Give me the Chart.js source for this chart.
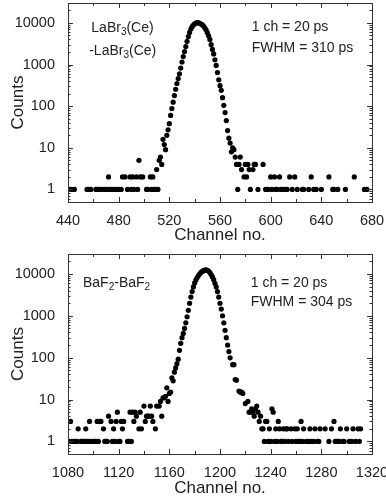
<!DOCTYPE html>
<html>
<head>
<meta charset="utf-8">
<script src="https://cdn.jsdelivr.net/npm/chart.js@4.4.1/dist/chart.umd.min.js"></script>
<style>
  body { margin: 0; background: #fff; }
  canvas { display: block; }
</style>
</head>
<body>
<canvas id="laChart" width="386" height="250"></canvas>
<canvas id="baChart" width="386" height="249"></canvas>
<script>
// LaBr3(Ce)-LaBr3(Ce) time spectrum
const laChannels = [441, 443, 445, 455, 456, 458, 462, 463, 465, 467, 469, 471, 472, 473, 474, 476, 478, 480,
  482, 483, 485, 487, 489, 490, 491, 492, 494, 495, 496, 497, 499, 502, 503, 505, 506, 507, 508, 509, 510, 511,
  512, 513, 514, 515, 516, 517, 518, 519, 520, 521, 522, 523, 524, 525, 526, 527, 528, 529, 530, 531, 532, 533,
  534, 535, 536, 537, 538, 539, 540, 541, 542, 543, 544, 545, 546, 547, 548, 549, 550, 551, 552, 553, 554, 555,
  556, 557, 558, 559, 560, 561, 562, 563, 564, 565, 566, 567, 568, 569, 570, 571, 572, 573, 574, 575, 576, 577,
  579, 580, 581, 582, 583, 584, 586, 587, 588, 590, 594, 596, 598, 600, 601, 603, 604, 605, 607, 608, 609, 611,
  613, 615, 617, 619, 621, 625, 626, 630, 632, 634, 636, 640, 646, 649, 650, 653, 659, 666, 674, 676];
const laCounts = [1, 1, 1, 1, 1, 1, 1, 1, 1, 1, 1, 1, 2, 1, 1, 1, 1, 1,
  1, 2, 2, 1, 2, 1, 2, 1, 2, 1, 5, 2, 2, 1, 1, 2, 1, 2, 1, 1, 3, 1,
  5, 6, 4, 16, 12, 9, 20, 27, 38, 60, 88, 125, 180, 255, 350, 460, 600, 820, 1150, 1550, 2050, 2700,
  3600, 4700, 5900, 7100, 8100, 8900, 9500, 9900, 10100, 10000, 9800, 9400, 9000, 8400, 7600, 6800, 5800, 4900, 4000, 3000, 2300, 1800,
  1300, 950, 640, 430, 310, 240, 160, 105, 70, 45, 26, 17, 13, 8, 10, 9, 6, 4, 1, 4, 6, 3,
  2, 4, 2, 4, 3, 1, 3, 4, 4, 1, 4, 1, 1, 2, 1, 2, 1, 1, 2, 1, 1, 1,
  1, 2, 1, 2, 1, 1, 1, 1, 2, 1, 1, 1, 2, 1, 1, 1, 1, 2, 1, 1];

// BaF2-BaF2 time spectrum
const baChannels = [1081, 1082, 1083, 1085, 1086, 1087, 1088, 1090, 1091, 1092, 1093, 1094, 1095, 1096, 1097, 1098,
  1100, 1101, 1102, 1103, 1104, 1105, 1106, 1108, 1109, 1110, 1111, 1112, 1114, 1115, 1116, 1117, 1118, 1119, 1120,
  1121, 1122, 1123, 1124, 1127, 1128, 1129, 1130, 1131, 1132, 1133, 1134, 1136, 1137, 1138, 1140, 1141, 1142, 1143,
  1144, 1145, 1146, 1147, 1149, 1150, 1152, 1153, 1154, 1155, 1156, 1157, 1158, 1159, 1160, 1161, 1162, 1163, 1164,
  1165, 1166, 1167, 1168, 1169, 1170, 1171, 1172, 1173, 1174, 1175, 1176, 1177, 1178, 1179, 1180, 1181, 1182, 1183,
  1184, 1185, 1186, 1187, 1188, 1189, 1190, 1191, 1192, 1193, 1194, 1195, 1196, 1197, 1198, 1199, 1200, 1201, 1202,
  1203, 1204, 1205, 1206, 1207, 1208, 1210, 1211, 1212, 1213, 1215, 1216, 1217, 1218, 1220, 1222, 1223, 1224, 1225,
  1226, 1227, 1228, 1229, 1230, 1231, 1232, 1233, 1234, 1235, 1236, 1237, 1238, 1239, 1240, 1241, 1242, 1243, 1244,
  1245, 1246, 1247, 1248, 1249, 1250, 1251, 1252, 1253, 1254, 1256, 1257, 1259, 1260, 1261, 1262, 1263, 1264, 1265,
  1266, 1268, 1270, 1271, 1272, 1274, 1275, 1277, 1278, 1279, 1283, 1286, 1288, 1290, 1291, 1292, 1293, 1294, 1295,
  1297, 1298, 1300, 1302, 1304, 1305, 1307, 1309, 1310, 1311];
const baCounts = [1, 3, 1, 1, 1, 1, 2, 1, 1, 1, 1, 2, 1, 1, 3, 1,
  1, 1, 1, 3, 1, 3, 3, 2, 1, 1, 1, 4, 3, 1, 2, 1, 3, 5, 1,
  1, 3, 2, 3, 1, 1, 5, 1, 5, 3, 5, 4, 2, 5, 2, 7, 3, 4, 4,
  4, 7, 4, 3, 2, 7, 7, 9, 4, 11, 11, 12, 19, 9, 14, 15, 33, 28, 45,
  57, 72, 92, 150, 220, 300, 380, 500, 680, 950, 1350, 2000, 2800, 3800, 4900, 6100, 7200, 8200, 9200,
  10100, 10900, 11500, 12000, 12400, 12500, 12200, 11700, 10800, 9700, 8500, 7300, 6000, 4900, 3800, 2800, 2000, 1450, 1000,
  680, 450, 300, 200, 140, 99, 68, 68, 30, 29, 16, 15, 15, 14, 8, 9, 5, 5, 6,
  5, 4, 6, 7, 5, 3, 4, 2, 2, 1, 3, 3, 1, 2, 1, 6, 5, 1, 2,
  1, 3, 2, 1, 1, 2, 1, 2, 2, 1, 2, 1, 2, 1, 2, 1, 1, 3, 1,
  2, 1, 1, 2, 1, 1, 2, 1, 1, 2, 2, 1, 2, 3, 1, 1, 1, 1, 2,
  1, 1, 2, 1, 1, 2, 1, 2, 1, 2];

const laXTicks = [440, 480, 520, 560, 600, 640, 680];
const baXTicks = [1080, 1120, 1160, 1200, 1240, 1280, 1320];
const yTicks = [1, 10, 100, 1000, 10000];

const FONT = "'Liberation Sans', Arial, sans-serif";

//Box frame with inward ticks on all four sides
const frameTicks = {
  id: 'frameTicks',
  afterDraw(chart, args, opts) {
    const { ctx, chartArea: a, scales: { x, y } } = chart;
    ctx.save();
    ctx.strokeStyle = '#333';
    ctx.lineWidth = 1;
    ctx.strokeRect(Math.round(a.left) + 0.5, Math.round(a.top) + 0.5,
      Math.round(a.right - a.left), Math.round(a.bottom - a.top));
    ctx.beginPath();
    for (let v = x.min; v <= x.max; v += opts.minor) {
      const px = Math.round(x.getPixelForValue(v)) + 0.5;
      const len = (v - x.min) % opts.major === 0 ? 5 : 3;
      ctx.moveTo(px, a.bottom); ctx.lineTo(px, a.bottom - len);
      ctx.moveTo(px, a.top); ctx.lineTo(px, a.top + len);
    }
    for (let d = -1; d <= 5; d++) {
      for (let m = 1; m <= 9; m++) {
        const v = m * Math.pow(10, d);
        if (v < y.min || v > y.max) continue;
        const py = Math.round(y.getPixelForValue(v)) + 0.5;
        const len = m === 1 ? 5 : 2.5;
        ctx.moveTo(a.left, py); ctx.lineTo(a.left + len, py);
        ctx.moveTo(a.right, py); ctx.lineTo(a.right - len, py);
      }
    }
    ctx.stroke();
    ctx.restore();
  }
};

//Text notes, parts with sub:true are drawn as subscripts
const notes = {
  id: 'notes',
  afterDraw(chart, args, opts) {
    const ctx = chart.ctx;
    ctx.save();
    ctx.fillStyle = '#222';
    ctx.textBaseline = 'middle';
    opts.items.forEach(item => {
      let w = 0;
      item.parts.forEach(p => {
        ctx.font = (p.sub ? 10 : 14) + 'px ' + FONT;
        w += ctx.measureText(p.t).width;
      });
      let x = item.center ? item.x - w / 2 : item.x;
      item.parts.forEach(p => {
        ctx.font = (p.sub ? 10 : 14) + 'px ' + FONT;
        ctx.fillText(p.t, x, item.y + (p.sub ? 4 : 0));
        x += ctx.measureText(p.t).width;
      });
    });
    ctx.restore();
  }
};

function createChart(id, channels, counts, xTicks, noteItems, top, xHeight, titlePad) {
  const points = channels.map((c, i) => ({ x: c, y: counts[i] }));
  return new Chart(document.getElementById(id), {
    type: 'scatter',
    data: {
      datasets: [{
        data: points,
        backgroundColor: '#000',
        borderWidth: 0,
        pointRadius: 2.6,
        pointHoverRadius: 2.6
      }]
    },
    options: {
      responsive: false,
      animation: false,
      events: [],
      layout: { padding: { top: top, right: 14, left: 0, bottom: 0 } },
      plugins: {
        legend: { display: false },
        tooltip: { enabled: false },
        frameTicks: { major: 40, minor: 20 },
        notes: { items: noteItems }
      },
      scales: {
        x: {
          type: 'linear',
          min: xTicks[0],
          max: xTicks[xTicks.length - 1],
          grid: { display: false },
          border: { display: false },
          afterBuildTicks: s => { s.ticks = xTicks.map(v => ({ value: v })); },
          ticks: { padding: 2, color: '#222', autoSkip: false, maxRotation: 0, font: { family: FONT, size: 14.5 }, callback: v => String(v) },
          title: { display: true, text: 'Channel no.', color: '#222', font: { family: FONT, size: 17 }, padding: { top: 0, bottom: titlePad } },
          afterFit: s => { s.height = xHeight; s.paddingLeft = 0; s.paddingRight = 0; }
        },
        y: {
          type: 'logarithmic',
          min: 0.5,
          max: 30000,
          grid: { display: false },
          border: { display: false },
          afterBuildTicks: s => { s.ticks = yTicks.map(v => ({ value: v })); },
          ticks: { padding: 5, color: '#222', autoSkip: false, font: { family: FONT, size: 14.5 }, callback: v => String(v) },
          title: { display: true, text: 'Counts', color: '#222', font: { family: FONT, size: 17 }, padding: { top: 8, bottom: 0 } },
          afterFit: s => { s.width = 68; s.paddingTop = 0; s.paddingBottom = 0; }
        }
      }
    },
    plugins: [frameTicks, notes]
  });
}

createChart('laChart', laChannels, laCounts, laXTicks, [
  { x: 122.5, y: 28.5, center: true, parts: [{ t: 'LaBr' }, { t: '3', sub: true }, { t: '(Ce)' }] },
  { x: 122.7, y: 51.5, center: true, parts: [{ t: '-LaBr' }, { t: '3', sub: true }, { t: '(Ce)' }] },
  { x: 251.7, y: 27.5, parts: [{ t: '1 ch = 20 ps' }] },
  { x: 251.7, y: 48.5, parts: [{ t: 'FWHM = 310 ps' }] }
], 3, 48, 4.8);

createChart('baChart', baChannels, baCounts, baXTicks, [
  { x: 83, y: 33.3, parts: [{ t: 'BaF' }, { t: '2', sub: true }, { t: '-BaF' }, { t: '2', sub: true }] },
  { x: 250.7, y: 33, parts: [{ t: '1 ch = 20 ps' }] },
  { x: 250.7, y: 51.7, parts: [{ t: 'FWHM = 304 ps' }] }
], 4, 45, 0.8);
</script>
</body>
</html>
